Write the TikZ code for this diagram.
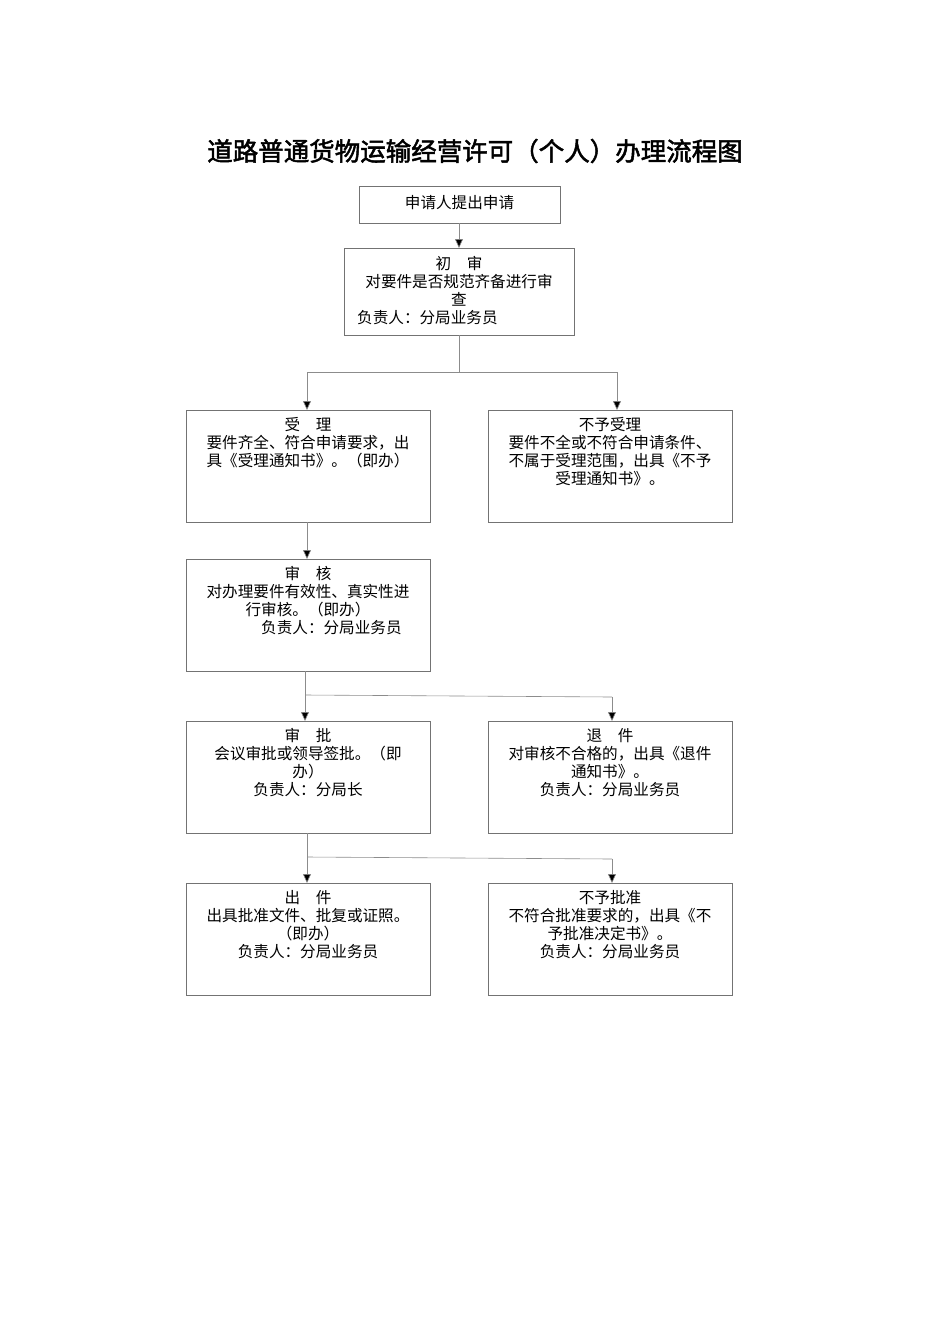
\documentclass[tikz,border=0pt]{standalone}
\usepackage{fontspec}
\setmainfont{Noto Sans CJK SC}
\newfontfamily\cjkb[FakeBold=2]{Noto Sans CJK SC}
\usetikzlibrary{arrows.meta}
\begin{document}
\begin{tikzpicture}[x=1pt,y=-1pt,
  bx/.style={draw=black!55,line width=0.6pt,minimum width=#1,inner sep=0pt},
  tx/.style={font=\fontsize{15.6}{18}\selectfont,align=center,anchor=north,inner sep=0pt},
  ln/.style={draw=black!45,line width=0.6pt},
  ar/.style={ln,-{Triangle[length=9pt,width=8pt,fill=black]}}]
\useasboundingbox (0,0) rectangle (950,1344);
\node[font=\cjkb\fontsize{25.5}{29}\selectfont] (title) at (475,151) {道路普通货物运输经营许可（个人）办理流程图};
% boxes
\draw[bx] (359,186) rectangle (560,223); \coordinate (b1) at (459.5,203);
\node[tx,anchor=center] (t1) at (b1) {申请人提出申请};
\draw[bx] (344,248) rectangle (574,335);
\node[tx] (t2) at (459,256) {初\quad 审\\对要件是否规范齐备进行审\\查};
\node[tx,anchor=north west] (t2b) at (357,310) {负责人：分局业务员};
\draw[bx] (186,410) rectangle (430,522);
\node[tx] (t3) at (308,417) {受\quad 理\\要件齐全、符合申请要求，出\\具《受理通知书》。（即办）};
\draw[bx] (488,410) rectangle (732,522);
\node[tx] (t4) at (610,417) {不予受理\\要件不全或不符合申请条件、\\不属于受理范围，出具《不予\\受理通知书》。};
\draw[bx] (186,559) rectangle (430,671);
\node[tx] (t5) at (308,566) {审\quad 核\\对办理要件有效性、真实性进\\行审核。（即办）\\\hspace{3em}负责人：分局业务员};
\draw[bx] (186,721) rectangle (430,833);
\node[tx] (t6) at (308,728) {审\quad 批\\会议审批或领导签批。（即\\办）\\负责人：分局长};
\draw[bx] (488,721) rectangle (732,833);
\node[tx] (t7) at (610,728) {退\quad 件\\对审核不合格的，出具《退件\\通知书》。\\负责人：分局业务员};
\draw[bx] (186,883) rectangle (430,995);
\node[tx] (t8) at (308,890) {出\quad 件\\出具批准文件、批复或证照。\\（即办）\\负责人：分局业务员};
\draw[bx] (488,883) rectangle (732,995);
\node[tx] (t9) at (610,890) {不予批准\\不符合批准要求的，出具《不\\予批准决定书》。\\负责人：分局业务员};
% connectors
\coordinate (a1) at (459,223); \coordinate (a2) at (459,248);
\draw[ar] (a1) -- (a2);
\coordinate (c1) at (459,335); \coordinate (c2) at (459,372);
\coordinate (c3) at (307,372); \coordinate (c4) at (617,372);
\coordinate (c5) at (307,410); \coordinate (c6) at (617,410);
\draw[ln] (c1) -- (c2); \draw[ln] (c3) -- (c4);
\draw[ar] (c3) -- (c5); \draw[ar] (c4) -- (c6);
\coordinate (d1) at (307,522); \coordinate (d2) at (307,559);
\draw[ar] (d1) -- (d2);
\coordinate (e1) at (305,671); \coordinate (e2) at (305,721);
\coordinate (e3) at (305,695); \coordinate (e4) at (612,697); \coordinate (e5) at (612,721);
\draw[ar] (e1) -- (e2); \draw[ln] (e3) -- (e4); \draw[ar] (e4) -- (e5);
\coordinate (f1) at (307,833); \coordinate (f2) at (307,883);
\coordinate (f3) at (307,857); \coordinate (f4) at (612,859); \coordinate (f5) at (612,883);
\draw[ar] (f1) -- (f2); \draw[ln] (f3) -- (f4); \draw[ar] (f4) -- (f5);
\end{tikzpicture}
\end{document}
